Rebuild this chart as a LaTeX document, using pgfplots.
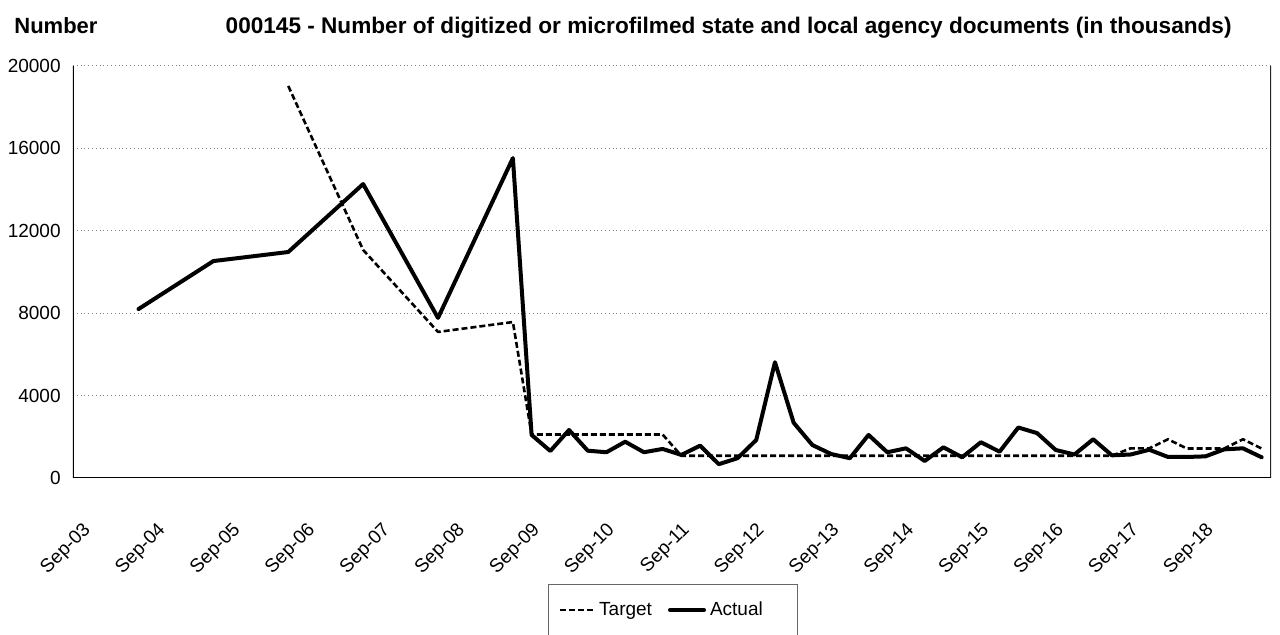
\documentclass[border=0pt]{standalone}
\usepackage{pgfplots}
\pgfplotsset{compat=1.18}
\usepackage{pgfplotstable}
\usepackage{fontspec}
\setmainfont{Liberation Sans}

\pgfplotstableread{
t value
0.875 8200
1.875 10530
2.875 10970
3.875 14270
4.875 7770
5.875 15530
6.125 2090
6.375 1310
6.625 2330
6.875 1325
7.125 1250
7.375 1760
7.625 1250
7.875 1410
8.125 1120
8.375 1570
8.625 670
8.875 960
9.125 1845
9.375 5620
9.625 2680
9.875 1600
10.125 1165
10.375 960
10.625 2090
10.875 1250
11.125 1440
11.375 825
11.625 1490
11.875 1005
12.125 1735
12.375 1277
12.625 2450
12.875 2180
13.125 1360
13.375 1140
13.625 1880
13.875 1100
14.125 1140
14.375 1370
14.625 1020
14.875 1020
15.125 1050
15.375 1390
15.625 1440
15.875 1005
}\actualdata

\pgfplotstableread{
t value
2.875 19030
3.875 11070
4.875 7090
5.875 7570
6.125 2110
6.375 2110
6.625 2110
6.875 2110
7.125 2110
7.375 2110
7.625 2110
7.875 2110
8.125 1080
8.375 1080
8.625 1080
8.875 1080
9.125 1080
9.375 1080
9.625 1080
9.875 1080
10.125 1080
10.375 1080
10.625 1080
10.875 1080
11.125 1080
11.375 1080
11.625 1080
11.875 1080
12.125 1080
12.375 1080
12.625 1080
12.875 1080
13.125 1080
13.375 1080
13.625 1080
13.875 1080
14.125 1440
14.375 1440
14.625 1880
14.875 1430
15.125 1430
15.375 1430
15.625 1880
15.875 1430
}\targetdata

\begin{document}
\begin{tikzpicture}
\path[use as bounding box] (0,0) rectangle (640pt,317.5pt);
\node[anchor=base west, inner sep=0pt, font=\bfseries\fontsize{11}{13}\selectfont] at (7pt,300.5pt) {Number};
\node[anchor=base east, inner sep=0pt, font=\bfseries\fontsize{11.3}{13}\selectfont] at (616pt,300.5pt) {000145 - Number of digitized or microfilmed state and local agency documents (in thousands)};
\begin{axis}[
  at={(36.5pt,78.5pt)}, anchor=south west,
  scale only axis, width=599pt, height=206pt,
  xmin=0, xmax=16, ymin=0, ymax=20000,
  xtick={0,1,...,15},
  xticklabels={Sep-03,Sep-04,Sep-05,Sep-06,Sep-07,Sep-08,Sep-09,Sep-10,Sep-11,Sep-12,Sep-13,Sep-14,Sep-15,Sep-16,Sep-17,Sep-18},
  ytick={0,4000,8000,12000,16000,20000},
  scaled y ticks=false,
  /pgf/number format/1000 sep={},
  /pgf/number format/assume math mode=true,
  major tick length=0pt,
  ymajorgrids,
  major grid style={draw=gray, line width=0.5pt, dash pattern=on 0.5pt off 1.4pt},
  axis line style={draw=none},
  tick label style={font=\fontsize{9.5}{11}\selectfont},
  yticklabel style={inner sep=0pt, xshift=-6pt},
  xticklabel style={inner sep=0pt, xshift=4.3pt, yshift=-21.5pt, rotate=45, anchor=north east},
  legend style={at={(0.3965,-0.2573)}, anchor=north west, draw=black!60, line width=0.6pt,
    inner xsep=5pt, inner ysep=6.5pt, font=\fontsize{9.5}{11}\selectfont,
    /tikz/every even column/.append style={column sep=6pt}},
  legend columns=2,
  legend image code/.code={\draw[#1] (0pt,0pt) -- (17pt,0pt);},
]
\addplot[black, line width=1.3pt, dash pattern=on 3pt off 1.5pt, line join=round] table[x=t, y=value] {\targetdata};
\addlegendentry{Target}
\addplot[black, line width=2pt, line join=round, line cap=round] table[x=t, y=value] {\actualdata};
\addlegendentry{Actual\hspace*{10.5pt}}
\draw[black, line width=1pt] (rel axis cs:0,0) -- (rel axis cs:0,1);
\draw[black!85, line width=0.7pt] (rel axis cs:1,0) -- (rel axis cs:1,1);
\draw[black, line width=1.3pt] (rel axis cs:0,0) -- (rel axis cs:1,0);
\end{axis}
\end{tikzpicture}
\end{document}
